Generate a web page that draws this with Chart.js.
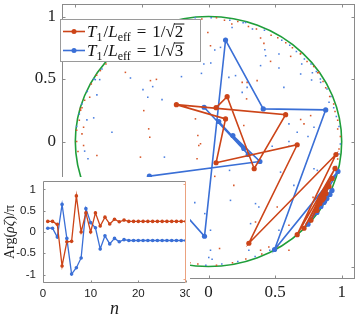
<!DOCTYPE html>
<html>
<head>
<meta charset="utf-8">
<script src="https://cdn.jsdelivr.net/npm/chart.js@4"></script>
<style>
  body { margin: 0; background: #fff; }
  #wrap { position: relative; width: 359px; height: 316px; }
  #main { position: absolute; left: 0; top: 0; }
  #inset { position: absolute; left: 0; top: 177px; background: #fff; }
</style>
</head>
<body>
<div id="wrap">
  <canvas id="main" width="359" height="316"></canvas>
  <canvas id="inset" width="190" height="139"></canvas>
</div>
<script>
// colours
const RED = '#cc4418';
const BLUE = '#3a6fd6';
const AXIS = '#8a8a8a';

// tick labels
const mainTicks = [-1, -0.5, 0, 0.5, 1];
const insetXTicks = [0, 10, 20, 30];
const insetYTicks = [-1, -0.5, 0, 0.5, 1];

// main plot: the two trajectories (big markers + lines)
const redPath = [
  [0.057, 0.271], [0.140, 0.359], [0.343, -0.218], [0.579, 0.215], [-0.241, 0.295],
  [0.128, 0.181], [0.057, -0.170], [0.666, -0.026], [0.303, -0.814], [0.957, -0.104],
  [0.666, -0.745], [0.950, -0.215], [0.717, -0.694], [0.927, -0.295], [0.769, -0.630],
  [0.905, -0.359], [0.814, -0.551], [0.882, -0.415], [0.837, -0.495], [0.867, -0.447],
  [0.852, -0.470], [0.860, -0.458]
];
const bluePath = [
  [-0.033, 0.274], [0.298, -0.104], [0.077, 0.160], [0.265, -0.056], [0.183, 0.048],
  [0.386, -0.160], [-0.444, -0.277], [-0.283, -0.455], [-0.030, -0.758], [0.128, 0.812],
  [0.411, 0.261], [0.880, 0.253], [0.496, -0.864], [0.972, -0.239], [0.747, -0.662],
  [0.927, -0.391], [0.814, -0.567], [0.912, -0.423], [0.844, -0.519], [0.889, -0.455],
  [0.867, -0.487], [0.874, -0.471], [0.870, -0.478]
];

// main plot: small scattered dots
const redDots = [
  [-0.624, 0.553], [-0.436, 0.487], [-0.391, 0.497], [-0.486, 0.247], [-0.449, 0.101],
  [-0.441, 0.034], [-0.511, -0.125], [-0.838, -0.112], [-0.938, -0.032], [-0.950, 0.061],
  [-0.938, 0.114], [-0.892, 0.354], [-0.962, 0.261], [-0.812, 0.567], [-0.005, 0.872],
  [0.015, 0.766], [-0.098, 0.181], [-0.080, 0.048], [-0.060, -0.018], [0.290, 0.473],
  [0.286, 0.341], [0.466, 0.641], [0.617, 0.681], [0.365, 0.487], [0.253, 0.473],
  [0.692, 0.176], [0.767, 0.207], [0.717, 0.141], [0.265, 0.128], [0.391, 0.828],
  [0.416, 0.785], [0.692, 0.705], [0.829, 0.553], [-0.073, -0.032], [-0.086, -0.138],
  [0.047, -0.279], [0.190, -0.351], [0.516, -0.524], [0.353, -0.644], [0.083, -0.856],
  [0.391, -0.870], [0.453, -0.844], [0.604, -0.870], [-0.156, -0.378], [0.785, -0.447],
  [0.739, -0.604], [0.604, -0.670], [0.175, 0.940],
  [-0.95, 0.27], [-0.93, 0.33], [-0.97, 0.17], [-0.99, 0.09], [-0.99, 0.00],
  [-0.98, -0.08], [-0.96, 0.25], [-0.88, 0.46], [-0.84, 0.53], [-0.77, 0.62],
  [-0.70, 0.69], [-0.62, 0.76], [-0.53, 0.83], [-0.40, 0.90], [-0.28, 0.94],
  [-0.15, 0.97], [-0.05, 0.98], [0.06, 0.99], [0.12, 0.97], [0.22, 0.96],
  [0.30, 0.92], [0.36, 0.90], [0.47, 0.85], [0.52, 0.83], [0.58, 0.79],
  [0.63, 0.75], [0.69, 0.70], [0.74, 0.64], [0.79, 0.60], [0.82, 0.55],
  [0.86, 0.48], [0.88, 0.43], [0.91, 0.36], [0.94, 0.30], [0.95, 0.24],
  [0.97, 0.17], [0.97, 0.10], [0.99, 0.04], [0.98, -0.06], [0.97, -0.14],
  [0.95, -0.22], [0.92, -0.30], [0.52, -0.84], [0.40, -0.90], [0.28, -0.94],
  [0.18, -0.97], [0.06, -0.99], [-0.08, -0.98], [-0.14, -0.97]
];
const blueDots = [
  [-0.586, 0.508], [-0.492, 0.415], [-0.419, 0.439], [-0.456, 0.354], [-0.349, 0.335],
  [-0.850, 0.495], [-0.817, 0.495], [-0.838, 0.373], [-0.862, 0.189], [-0.913, 0.173],
  [-0.725, 0.074], [-0.930, -0.077], [-0.905, -0.138], [-0.331, -0.125], [0.047, 0.732],
  [0.090, 0.753], [0.017, 0.628], [-0.035, 0.620], [-0.053, 0.545], [-0.203, 0.519],
  [0.153, 0.513], [0.203, 0.527], [0.253, 0.393], [0.423, 0.734], [0.429, 0.686],
  [0.529, 0.700], [0.391, 0.607], [0.529, 0.588], [0.566, 0.433], [0.692, 0.540],
  [0.774, 0.492], [0.842, 0.473], [0.290, 0.433], [0.666, 0.074], [0.604, 0.141],
  [0.792, 0.114], [0.604, 0.000], [0.747, 0.040], [0.905, 0.314], [-0.028, -0.577],
  [0.165, -0.471], [0.158, -0.231], [-0.103, -0.489], [0.015, -0.710], [0.353, -0.497],
  [0.378, -0.524], [0.478, -0.038], [0.604, -0.038], [0.641, -0.351], [0.541, -0.245],
  [0.529, -0.710], [0.303, -0.870], [0.316, -0.657], [0.015, -0.870], [0.002, -0.928],
  [0.027, -0.942], [0.792, -0.218], [0.817, -0.231], [0.177, 0.912], [0.278, 0.952],
  [0.70, 0.62], [0.78, 0.55],
  [-0.97, 0.22], [-0.99, 0.12], [-0.95, 0.30], [-0.91, 0.40], [-0.86, 0.50],
  [-0.80, 0.58], [-0.74, 0.66], [-0.66, 0.73], [-0.57, 0.80], [-0.45, 0.88],
  [-0.33, 0.93], [-0.20, 0.97], [-0.10, 0.99], [0.02, 0.99], [0.16, 0.97],
  [0.26, 0.95], [0.33, 0.90], [0.42, 0.89], [0.55, 0.81], [0.61, 0.77],
  [0.66, 0.72], [0.72, 0.66], [0.77, 0.62], [0.81, 0.56], [0.84, 0.50],
  [0.89, 0.42], [0.92, 0.36], [0.94, 0.27], [0.96, 0.20], [0.98, 0.12],
  [0.99, -0.02], [0.98, -0.10], [0.96, -0.20], [0.94, -0.28], [0.46, -0.87],
  [0.35, -0.92], [0.22, -0.96], [0.10, -0.98], [-0.02, -0.99], [-0.18, -0.97]
];

// inset: Arg(rho zeta)/pi against n
const insetN = [1, 2, 3, 4, 5, 6, 7, 8, 9, 10, 11, 12, 13, 14, 15,
  16, 17, 18, 19, 20, 21, 22, 23, 24, 25, 26, 27, 28, 29, 30];
const insetRed = [0.25, 0.25, 0.18, -0.80, -0.23, -0.22, 0.85, 0.00, 0.45, 0.00,
  0.45, 0.14, 0.35, 0.19, 0.30, 0.24, 0.28, 0.25, 0.25, 0.25,
  0.25, 0.25, 0.25, 0.25, 0.25, 0.25, 0.25, 0.25, 0.25, 0.25];
const insetBlue = [0.09, 0.09, -0.12, 0.65, -0.15, -0.99, -0.84, -0.61, 0.55, 0.22,
  0.10, -0.40, -0.09, -0.28, -0.15, -0.23, -0.18, -0.20, -0.20, -0.20,
  -0.20, -0.20, -0.20, -0.20, -0.20, -0.20, -0.20, -0.20, -0.20, -0.20];

const toXY = arr => arr.map(([x, y]) => ({ x, y }));

// fixed axis sizes, no extra label padding
const fixH = h => s => { s.height = h; s.paddingLeft = 0; s.paddingRight = 0; };
const fixW = w => s => { s.width = w; s.paddingTop = 0; s.paddingBottom = 0; };

// draw "T1/Leff = 1/sqrt(d)" with sub/superscripts, baseline at y
function drawLegendText(ctx, x, y, d) {
  const big = '17px "Liberation Serif"';
  const ital = 'italic 17px "Liberation Serif"';
  const sm = '12px "Liberation Serif"';
  let cx = x;
  const put = (t, f, dy = 0) => {
    ctx.font = f;
    ctx.fillText(t, cx, y + dy);
    cx += ctx.measureText(t).width;
  };
  ctx.fillStyle = '#111';
  ctx.textBaseline = 'alphabetic';
  ctx.textAlign = 'left';
  put('T', ital); put('1', sm, 4); cx += 1;
  put('/', big); put('L', ital); put('eff', sm, 4);
  cx += 6; put('=', big); cx += 6;
  put('1/', big); put('√', big);
  const x0 = cx;
  put(d, big);
  ctx.strokeStyle = '#111';
  ctx.lineWidth = 1;
  ctx.beginPath();
  ctx.moveTo(x0 - 1, y - 12.5);
  ctx.lineTo(cx + 1, y - 12.5);
  ctx.stroke();
}

const mainDeco = {
  id: 'mainDeco',
  beforeDatasetsDraw(chart) {
    const { ctx, chartArea: a, scales: { x, y } } = chart;
    const cx = x.getPixelForValue(0), cy = y.getPixelForValue(0);
    ctx.save();
    ctx.beginPath();
    ctx.rect(a.left, a.top, a.right - a.left, a.bottom - a.top);
    ctx.clip();
    ctx.strokeStyle = '#1f9e3a';
    ctx.lineWidth = 1.6;
    ctx.beginPath();
    ctx.ellipse(cx, cy, x.getPixelForValue(1) - cx, cy - y.getPixelForValue(1), 0, 0, Math.PI * 2);
    ctx.stroke();
    ctx.restore();
  },
  afterDraw(chart) {
    const { ctx, chartArea: a, scales: { x, y } } = chart;
    ctx.save();
    ctx.strokeStyle = AXIS;
    ctx.lineWidth = 1;
    const L = Math.round(a.left) + 0.5, R = Math.round(a.right) - 0.5;
    const T = Math.round(a.top) + 0.5, B = Math.round(a.bottom) - 0.5;
    ctx.strokeRect(L, T, R - L, B - T);
    ctx.beginPath();
    mainTicks.forEach(v => {
      const px = Math.round(x.getPixelForValue(v)) + 0.5;
      ctx.moveTo(px, B); ctx.lineTo(px, B - 3);
      ctx.moveTo(px, T); ctx.lineTo(px, T + 3);
      const py = Math.round(y.getPixelForValue(v)) + 0.5;
      ctx.moveTo(L, py); ctx.lineTo(L + 3, py);
      ctx.moveTo(R, py); ctx.lineTo(R - 3, py);
    });
    ctx.stroke();

    // legend box
    ctx.fillStyle = '#fff';
    ctx.fillRect(60, 19, 141, 43);
    ctx.strokeStyle = '#9a9a9a';
    ctx.strokeRect(60.5, 19.5, 140, 42);
    [[RED, 31.5, '2'], [BLUE, 50.5, '3']].forEach(([c, ly, d]) => {
      ctx.strokeStyle = c;
      ctx.fillStyle = c;
      ctx.lineWidth = 1.6;
      ctx.beginPath();
      ctx.moveTo(63, ly); ctx.lineTo(85, ly);
      ctx.stroke();
      ctx.beginPath();
      ctx.arc(74, ly, 2.5, 0, Math.PI * 2);
      ctx.fill();
      drawLegendText(ctx, 87, ly + 5, d);
    });
    ctx.restore();
  }
};

new Chart(document.getElementById('main'), {
  type: 'scatter',
  data: {
    datasets: [
      { data: toXY(redPath), showLine: true, borderColor: RED, backgroundColor: RED,
        borderWidth: 1.6, pointRadius: 2.6, pointBorderWidth: 0 },
      { data: toXY(bluePath), showLine: true, borderColor: BLUE, backgroundColor: BLUE,
        borderWidth: 1.6, pointRadius: 2.6, pointBorderWidth: 0 },
      { data: toXY(redDots), backgroundColor: '#d8582a', pointStyle: 'rect',
        pointRadius: 1.1, pointBorderWidth: 0 },
      { data: toXY(blueDots), backgroundColor: '#4a7fe0', pointStyle: 'rect',
        pointRadius: 1.1, pointBorderWidth: 0 }
    ]
  },
  options: {
    responsive: false,
    animation: false,
    layout: { padding: { top: 3, right: 3, left: 0, bottom: 0 } },
    plugins: { legend: { display: false }, tooltip: { enabled: false } },
    scales: {
      x: {
        type: 'linear', min: -1.1, max: 1.1,
        afterBuildTicks: s => { s.ticks = mainTicks.map(v => ({ value: v })); },
        afterFit: fixH(37),
        grid: { display: false, drawTicks: false },
        border: { display: false },
        ticks: { font: { family: 'Liberation Serif', size: 17 }, color: '#222',
          padding: 3, maxRotation: 0, autoSkip: false, callback: v => String(v) }
      },
      y: {
        type: 'linear', min: -1.1, max: 1.1,
        afterBuildTicks: s => { s.ticks = mainTicks.map(v => ({ value: v })); },
        afterFit: fixW(62),
        grid: { display: false, drawTicks: false },
        border: { display: false },
        ticks: { font: { family: 'Liberation Serif', size: 17 }, color: '#222',
          padding: 6, autoSkip: false, callback: v => String(v) }
      }
    }
  },
  plugins: [mainDeco]
});

// inset frame, ticks and axis titles
const insetDeco = {
  id: 'insetDeco',
  afterDraw(chart) {
    const { ctx, chartArea: a, scales: { x, y } } = chart;
    ctx.save();
    const L = Math.round(a.left) + 0.5, R = Math.round(a.right) - 0.5;
    const T = Math.round(a.top) + 0.5, B = Math.round(a.bottom) - 0.5;
    ctx.lineWidth = 1;
    ctx.strokeStyle = AXIS;
    ctx.beginPath();
    ctx.moveTo(R, T); ctx.lineTo(L, T); ctx.lineTo(L, B); ctx.lineTo(R, B);
    insetXTicks.forEach(v => {
      const px = Math.round(x.getPixelForValue(v)) + 0.5;
      ctx.moveTo(px, B); ctx.lineTo(px, B - 2);
    });
    insetYTicks.forEach(v => {
      const py = Math.round(y.getPixelForValue(v)) + 0.5;
      ctx.moveTo(L, py); ctx.lineTo(L + 2, py);
    });
    ctx.stroke();
    ctx.strokeStyle = '#eba27f';
    ctx.beginPath();
    ctx.moveTo(R, T); ctx.lineTo(R, B);
    ctx.moveTo(R, T + 3); ctx.lineTo(R - 2, T + 3);
    ctx.moveTo(R, B - 3); ctx.lineTo(R - 2, B - 3);
    ctx.stroke();

    // x title
    ctx.fillStyle = '#222';
    ctx.font = 'italic 18px "Liberation Serif"';
    ctx.textAlign = 'center';
    ctx.textBaseline = 'alphabetic';
    ctx.fillText('n', (a.left + a.right) / 2, 137);

    // y title, rotated
    const parts = [['Arg(', '14px "Liberation Serif"'], ['ρζ', 'italic 14px "Liberation Serif"'],
      [')/π', '14px "Liberation Serif"']];
    let w = 0;
    parts.forEach(([t, f]) => { ctx.font = f; w += ctx.measureText(t).width; });
    ctx.translate(14, (a.top + a.bottom) / 2);
    ctx.rotate(-Math.PI / 2);
    ctx.textAlign = 'left';
    let cx = -w / 2;
    parts.forEach(([t, f]) => {
      ctx.font = f;
      ctx.fillText(t, cx, 0);
      cx += ctx.measureText(t).width;
    });
    ctx.restore();
  }
};

new Chart(document.getElementById('inset'), {
  type: 'line',
  data: {
    datasets: [
      { data: insetN.map((n, i) => ({ x: n, y: insetRed[i] })), borderColor: RED,
        backgroundColor: RED, borderWidth: 1.3, pointRadius: 1.8, pointBorderWidth: 0 },
      { data: insetN.map((n, i) => ({ x: n, y: insetBlue[i] })), borderColor: BLUE,
        backgroundColor: BLUE, borderWidth: 1.3, pointRadius: 1.8, pointBorderWidth: 0 }
    ]
  },
  options: {
    responsive: false,
    animation: false,
    layout: { padding: { top: 2, right: 3, left: 0, bottom: 0 } },
    plugins: { legend: { display: false }, tooltip: { enabled: false } },
    scales: {
      x: {
        type: 'linear', min: 0, max: 30,
        afterBuildTicks: s => { s.ticks = insetXTicks.map(v => ({ value: v })); },
        afterFit: fixH(33),
        grid: { display: false, drawTicks: false },
        border: { display: false },
        ticks: { font: { family: 'Liberation Sans', size: 11.5 }, color: '#222',
          padding: 4, maxRotation: 0, autoSkip: false, callback: v => String(v) }
      },
      y: {
        type: 'linear', min: -1.2, max: 1.2,
        afterBuildTicks: s => { s.ticks = insetYTicks.map(v => ({ value: v })); },
        afterFit: fixW(43),
        grid: { display: false, drawTicks: false },
        border: { display: false },
        ticks: { font: { family: 'Liberation Sans', size: 11.5 }, color: '#222',
          padding: 7, autoSkip: false, callback: v => String(v) }
      }
    }
  },
  plugins: [insetDeco]
});
</script>
</body>
</html>
